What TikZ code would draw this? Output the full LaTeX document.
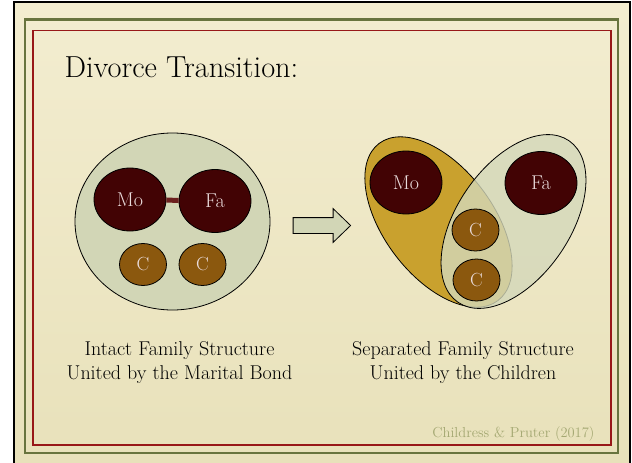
\documentclass[tikz,border=0pt]{standalone}
\usepackage{fontspec}
\usetikzlibrary{shapes.geometric, shapes.arrows}
\definecolor{parchtop}{RGB}{243,237,208}
\definecolor{parchbot}{RGB}{232,225,186}
\definecolor{framegreen}{RGB}{104,116,62}
\definecolor{framered}{RGB}{152,24,24}
\definecolor{sage}{RGB}{210,214,182}
\definecolor{paleSage}{RGB}{212,216,186}
\definecolor{gold}{RGB}{201,161,46}
\definecolor{maroon}{RGB}{66,3,4}
\definecolor{bondred}{RGB}{108,32,30}
\definecolor{childbrown}{RGB}{139,88,14}
\definecolor{palepink}{RGB}{234,220,220}
\definecolor{citegreen}{RGB}{164,168,114}

\begin{document}
\begin{tikzpicture}[x=1pt, y=-1pt,
    member/.style={ellipse, draw=black, line width=0.8pt, fill=maroon, text=palepink,
        inner sep=0pt, minimum width=72pt, minimum height=63pt, font=\fontsize{20}{24}\selectfont},
    child/.style={ellipse, draw=black, line width=0.8pt, fill=childbrown, text=palepink,
        inner sep=0pt, minimum width=47pt, minimum height=42pt, font=\fontsize{19}{24}\selectfont},
    group/.style={ellipse, draw=black, line width=0.8pt, inner sep=0pt},
    caption/.style={align=center, font=\fontsize{20}{24}\selectfont}]
    \useasboundingbox (0,0) rectangle (632,463);
    \fill[white] (0,0) rectangle (632,463);
    \shade[top color=parchtop, bottom color=parchbot] (14,2) rectangle (630,470);
    \draw[line width=2.5pt] (14,2) rectangle (630,480);
    \draw[framegreen, line width=2.5pt] (25,19.5) rectangle (618,453);
    \draw[framered, line width=1.6pt] (33,30.5) rectangle (611,445);

    \node[anchor=base west, font=\fontsize{30.4}{36}\selectfont] (title) at (61,77) {Divorce Transition:};

    % intact family
    \node[group, fill=sage, minimum width=195pt, minimum height=177pt] (intact) at (172.5,221.5) {};
    \node[member] (mo1) at (130,199.5) {Mo};
    \node[member] (fa1) at (215,201) {Fa};
    \draw[bondred, line width=5pt] (mo1) -- (fa1);
    \foreach \x/\n in {143/1, 202.5/2} {
        \node[child] (c1\n) at (\x,264.5) {C};
    }

    \node[single arrow, draw=black, line width=0.8pt, fill=sage, inner xsep=0pt, inner ysep=7.5pt,
        minimum height=57.5pt, single arrow head extend=9pt, single arrow tip angle=88,
        anchor=tail] (trans) at (292.7,225.5) {};

    % separated family
    \node[group, fill=gold, minimum width=197pt, minimum height=109pt, rotate=-52.9] (mom) at (438.5,222) {};
    \node[group, fill=paleSage, fill opacity=0.8, minimum width=196pt, minimum height=113pt, rotate=55.5] (dad) at (513.5,221.5) {};
    \node[member] (mo2) at (406,182.5) {Mo};
    \node[member] (fa2) at (541,183) {Fa};
    \node[child] (c21) at (475.5,230) {C};
    \node[child] (c22) at (476.5,280) {C};

    \node[caption, anchor=north] (intactcap) at (179.5,338) {Intact Family Structure\\United by the Marital Bond};
    \node[caption, anchor=north] (sepcap) at (463,338) {Separated Family Structure\\United by the Children};

    \node[anchor=base east, text=citegreen, font=\fontsize{14.5}{18}\selectfont] (cite) at (598,437) {Childress \& Pruter (2017)};
\end{tikzpicture}
\end{document}
